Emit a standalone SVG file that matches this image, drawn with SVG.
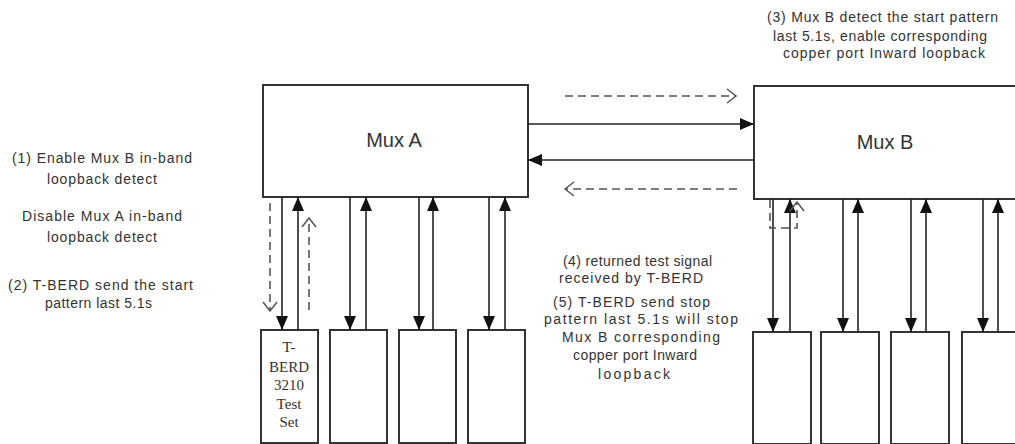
<svg xmlns="http://www.w3.org/2000/svg" width="1015" height="444" viewBox="0 0 1015 444">
<style>
.box{fill:#fff;stroke:#333;stroke-width:2}
.sol{stroke:#222;stroke-width:1.6;fill:none}
.dash{stroke:#555;stroke-width:1.6;fill:none;stroke-dasharray:8 5}
.t{font-family:"Liberation Sans",Arial,sans-serif;font-size:14px;fill:#333}
.big{font-family:"Liberation Sans",Arial,sans-serif;font-size:20px;fill:#333;text-anchor:middle}
.ser{font-family:"Liberation Serif","Times New Roman",serif;font-size:15px;fill:#333;text-anchor:middle}
</style>
<defs>
<marker id="fa" markerUnits="userSpaceOnUse" markerWidth="14" markerHeight="12" refX="14" refY="6" orient="auto">
<path d="M0,0 L14,6 L0,12 z" fill="#111"/>
</marker>
<marker id="oa" markerUnits="userSpaceOnUse" markerWidth="12" markerHeight="16" refX="10" refY="8" orient="auto">
<path d="M1,1 L10,8 L1,15" fill="none" stroke="#555" stroke-width="1.5"/>
</marker>
</defs>
<rect width="1015" height="444" fill="#fff"/>

<g id="mux-a"><rect class="box" x="263" y="85" width="265" height="112"/><text class="big" x="394" y="147">Mux A</text></g>
<g id="mux-b"><rect class="box" x="754" y="86" width="290" height="113"/><text class="big" x="885" y="149">Mux B</text></g>

<g id="tberd"><rect class="box" x="261" y="330" width="57" height="113"/>
<text class="ser" x="289" y="352">T-</text><text class="ser" x="289" y="372">BERD</text><text class="ser" x="289" y="390">3210</text><text class="ser" x="289" y="409">Test</text><text class="ser" x="289" y="427">Set</text></g>
<g id="a2"><rect class="box" x="330" y="330" width="57" height="113"/></g>
<g id="a3"><rect class="box" x="399" y="330" width="57" height="113"/></g>
<g id="a4"><rect class="box" x="468" y="330" width="57" height="113"/></g>
<g id="b1"><rect class="box" x="753" y="332" width="58" height="112"/></g>
<g id="b2"><rect class="box" x="821" y="332" width="58" height="112"/></g>
<g id="b3"><rect class="box" x="891" y="332" width="58" height="112"/></g>
<g id="b4"><rect class="box" x="962" y="332" width="70" height="112"/></g>

<g id="notes">
<text class="t" x="12" y="163" textLength="180" lengthAdjust="spacing">(1) Enable Mux B in-band</text>
<text class="t" x="47" y="184" textLength="110" lengthAdjust="spacing">loopback detect</text>
<text class="t" x="22" y="221" textLength="160" lengthAdjust="spacing">Disable Mux A in-band</text>
<text class="t" x="47" y="242" textLength="110" lengthAdjust="spacing">loopback detect</text>
<text class="t" x="8" y="290" textLength="185" lengthAdjust="spacing">(2) T-BERD send the start</text>
<text class="t" x="45" y="308" textLength="107" lengthAdjust="spacing">pattern last 5.1s</text>
<text class="t" x="767" y="22" textLength="231" lengthAdjust="spacing">(3) Mux B detect the start pattern</text>
<text class="t" x="773" y="41" textLength="214" lengthAdjust="spacing">last 5.1s, enable corresponding</text>
<text class="t" x="783" y="58" textLength="202" lengthAdjust="spacing">copper port Inward loopback</text>
<text class="t" x="563" y="266" textLength="149" lengthAdjust="spacing">(4) returned test signal</text>
<text class="t" x="559" y="283" textLength="144" lengthAdjust="spacing">received by T-BERD</text>
<text class="t" x="553" y="307" textLength="157" lengthAdjust="spacing">(5) T-BERD send stop</text>
<text class="t" x="544" y="324" textLength="194" lengthAdjust="spacing">pattern last 5.1s will stop</text>
<text class="t" x="562" y="342" textLength="158" lengthAdjust="spacing">Mux B corresponding</text>
<text class="t" x="573" y="360" textLength="124" lengthAdjust="spacing">copper port Inward</text>
<text class="t" x="598" y="379" textLength="72" lengthAdjust="spacing">loopback</text>
</g>

<g id="connectors">
<line class="sol" x1="528" y1="124" x2="754" y2="124" marker-end="url(#fa)"/>
<line class="sol" x1="754" y1="160" x2="528" y2="160" marker-end="url(#fa)"/>
<line class="dash" x1="565" y1="96" x2="736" y2="96" marker-end="url(#oa)"/>
<line class="dash" x1="737" y1="189" x2="565" y2="189" marker-end="url(#oa)"/>

<line class="sol" x1="282" y1="197" x2="282" y2="330" marker-end="url(#fa)"/>
<line class="sol" x1="298" y1="330" x2="298" y2="197" marker-end="url(#fa)"/>
<line class="sol" x1="350" y1="197" x2="350" y2="330" marker-end="url(#fa)"/>
<line class="sol" x1="366" y1="330" x2="366" y2="197" marker-end="url(#fa)"/>
<line class="sol" x1="419" y1="197" x2="419" y2="330" marker-end="url(#fa)"/>
<line class="sol" x1="433" y1="330" x2="433" y2="197" marker-end="url(#fa)"/>
<line class="sol" x1="489" y1="197" x2="489" y2="330" marker-end="url(#fa)"/>
<line class="sol" x1="505" y1="330" x2="505" y2="197" marker-end="url(#fa)"/>

<line class="sol" x1="773" y1="199" x2="773" y2="332" marker-end="url(#fa)"/>
<line class="sol" x1="790" y1="332" x2="790" y2="199" marker-end="url(#fa)"/>
<line class="sol" x1="843" y1="199" x2="843" y2="332" marker-end="url(#fa)"/>
<line class="sol" x1="858" y1="332" x2="858" y2="199" marker-end="url(#fa)"/>
<line class="sol" x1="911" y1="199" x2="911" y2="332" marker-end="url(#fa)"/>
<line class="sol" x1="926" y1="332" x2="926" y2="199" marker-end="url(#fa)"/>
<line class="sol" x1="983" y1="199" x2="983" y2="332" marker-end="url(#fa)"/>
<line class="sol" x1="998" y1="332" x2="998" y2="199" marker-end="url(#fa)"/>

<line class="dash" x1="270" y1="203" x2="270" y2="311" marker-end="url(#oa)"/>
<line class="dash" x1="309" y1="310" x2="309" y2="218" marker-end="url(#oa)"/>
<path class="dash" d="M770,200 V228 H797 V202" stroke-dasharray="8 4" marker-end="url(#oa)"/>
</g>
</svg>
